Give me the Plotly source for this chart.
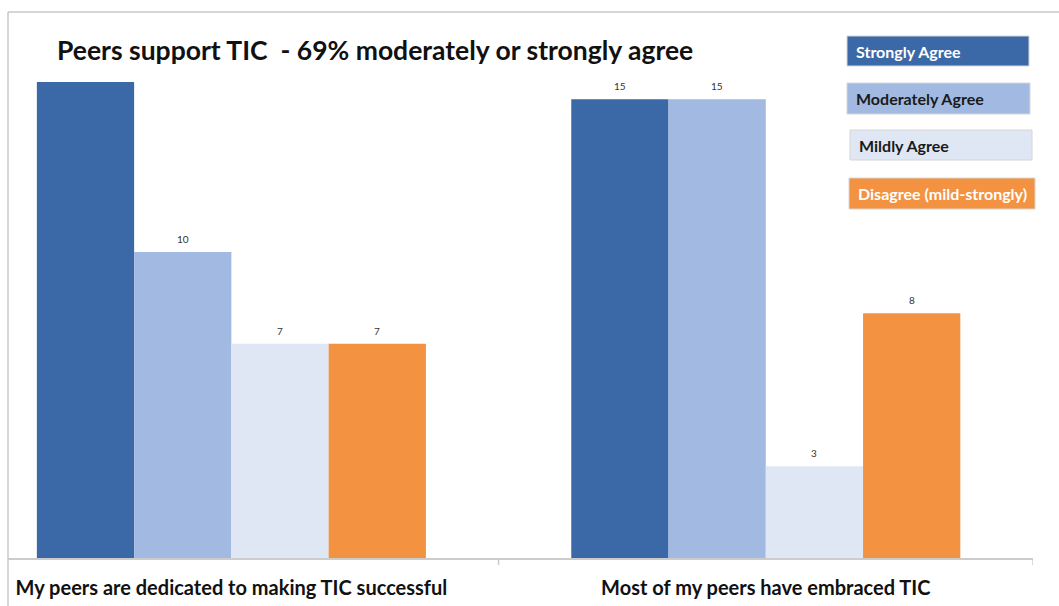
import plotly.graph_objects as go

# Survey responses per statement
statements = [
    "My peers are dedicated to making TIC successful",
    "Most of my peers have embraced TIC",
]
responses = ["Strongly Agree", "Moderately Agree", "Mildly Agree", "Disagree (mild-strongly)"]
strongly_agree = [16, 15]
moderately_agree = [10, 15]
mildly_agree = [7, 3]
disagree = [7, 8]
series_values = [strongly_agree, moderately_agree, mildly_agree, disagree]

colors = ["#3B68A7", "#A2BAE2", "#E0E7F4", "#F39240"]
legend_text_colors = ["#FFFFFF", "#1A1A1A", "#1A1A1A", "#FFFFFF"]

title = "Peers support TIC\u00a0\u00a0- 69% moderately or strongly agree"

W, H = 1059, 606
L, R, T, B = 8, 26, 82, 48
Y_MAX = 15.56
x_pos = list(range(len(statements)))
n_series = len(responses)
bargap = 0.272
slot = (1 - bargap) / n_series

fig = go.Figure()
for i, (name, vals, col) in enumerate(zip(responses, series_values, colors)):
    fig.add_trace(go.Bar(
        x=x_pos, y=vals, name=name,
        marker=dict(color=col, line=dict(width=0)),
        cliponaxis=True, showlegend=False,
    ))
    # Value labels above each bar (the tallest bar runs past the axis top, so no label there)
    for xp, v in zip(x_pos, vals):
        if v > Y_MAX:
            continue
        fig.add_annotation(
            x=xp - (1 - bargap) / 2 + slot * (i + 0.5), y=v, text=str(v),
            xref="x", yref="y", showarrow=False, yanchor="bottom", yshift=5,
            font=dict(family="Lato, Liberation Sans, sans-serif", size=10, color="#333333"),
        )

fig.update_layout(
    width=W, height=H,
    margin=dict(l=L, r=R, t=T, b=B, pad=0, autoexpand=False),
    paper_bgcolor="white", plot_bgcolor="white",
    barmode="group", bargap=bargap, bargroupgap=0,
    font=dict(family="Lato, Liberation Sans, sans-serif"),
    xaxis=dict(
        range=[-0.418, 1.5], tickvals=x_pos, ticktext=statements,
        showline=True, linecolor="#CCCCCC", linewidth=1.5, automargin=False,
        ticks="", showgrid=False, zeroline=False, ticklabelstandoff=11,
        tickfont=dict(family="Lato, Liberation Sans, sans-serif", size=20, color="#111111", weight="bold"),
    ),
    yaxis=dict(range=[0, Y_MAX], visible=False, showgrid=False, zeroline=False, automargin=False),
)

# Frame around the chart and dividers between the categories
fig.add_shape(type="line", xref="paper", yref="paper", x0=0, x1=(W - L) / (W - L - R),
              y0=1 + (T - 12) / (H - T - B), y1=1 + (T - 12) / (H - T - B),
              line=dict(color="#C8C8C8", width=1.5))
fig.add_shape(type="line", xref="paper", yref="paper", x0=0, x1=0,
              y0=-B / (H - T - B), y1=1 + (T - 12) / (H - T - B),
              line=dict(color="#C8C8C8", width=1.5))
for xv in [0.5, 1.5]:
    fig.add_shape(type="line", xref="x", yref="paper", x0=xv, x1=xv,
                  y0=0, y1=-7 / (H - T - B), line=dict(color="#CCCCCC", width=1.5))

# Title
fig.add_annotation(text=title, xref="paper", yref="paper",
                   x=(55 - L) / (W - L - R), y=1 + (T - 50) / (H - T - B),
                   xanchor="left", yanchor="middle", showarrow=False,
                   font=dict(family="Lato, Liberation Sans, sans-serif", size=26.5, color="#111111", weight="bold"))

# Legend boxes
boxes = [(847, 36, 182, 30), (847, 83, 183, 31), (850, 130, 182, 30), (849, 178, 186, 31)]
for (bx, by, bw, bh), name, col, tcol in zip(boxes, responses, colors, legend_text_colors):
    fig.add_shape(type="rect", xref="paper", yref="paper",
                  x0=(bx - L) / (W - L - R), x1=(bx + bw - L) / (W - L - R),
                  y0=1 - (by + bh - T) / (H - T - B), y1=1 - (by - T) / (H - T - B),
                  fillcolor=col, line=dict(color="#D6D6D6", width=1))
    fig.add_annotation(text=name, xref="paper", yref="paper",
                       x=(bx + 7 - L) / (W - L - R), y=1 - (by + bh / 2 - T) / (H - T - B),
                       xanchor="left", yanchor="middle", showarrow=False,
                       font=dict(family="Lato, Liberation Sans, sans-serif", size=16, color=tcol, weight="bold"))

fig.write_html("out.html")
